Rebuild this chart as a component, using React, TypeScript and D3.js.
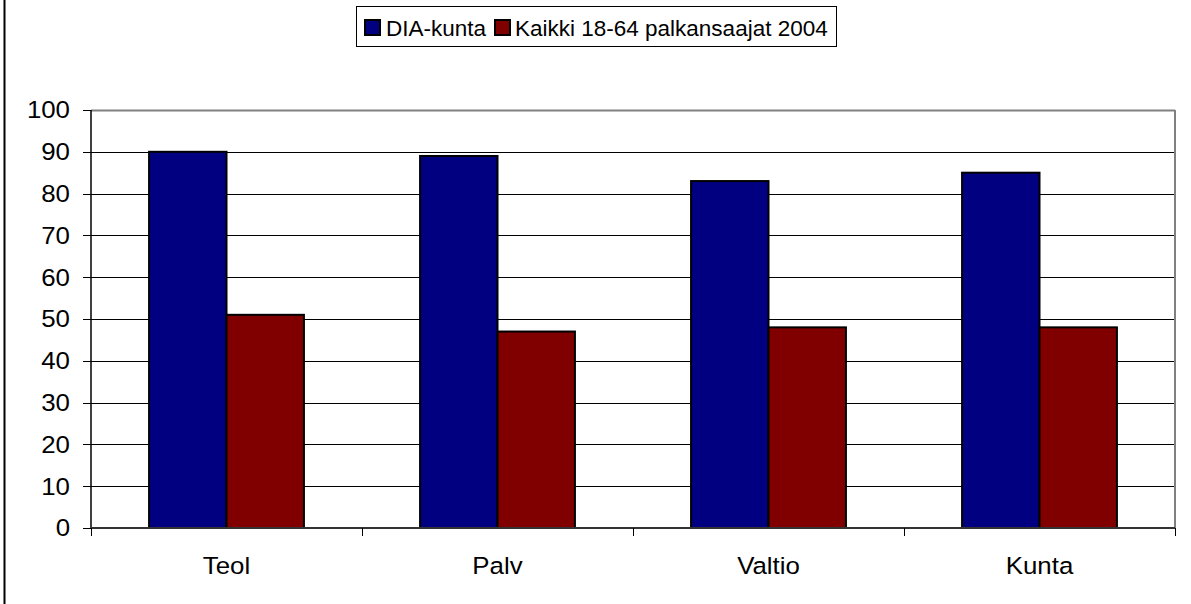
import React from "react";
import * as d3 from "d3";

const categories = ["Teol", "Palv", "Valtio", "Kunta"];
const seriesNames = ["DIA-kunta", "Kaikki 18-64 palkansaajat 2004"];
const diaValues = [90, 89, 83, 85];
const kaikkiValues = [51, 47, 48, 48];
const yTicks = [0, 10, 20, 30, 40, 50, 60, 70, 80, 90, 100];
const colors = ["#000080", "#800000"];

const W = 1191;
const H = 604;
const plot = { left: 91, right: 1175, top: 110, bottom: 528 };
const FONT = "'Liberation Sans', Arial, sans-serif";
const SX = 1.1;

export default function App() {
  const x0 = d3.scaleBand<string>().domain(categories).range([plot.left, plot.right]).paddingInner(0).paddingOuter(0);
  const bw = x0.bandwidth() / 3.5;
  const x1 = d3.scaleBand<number>().domain([0, 1]).range([0, bw * 2]);
  const y = d3.scaleLinear().domain([0, 100]).range([plot.bottom, plot.top]);
  const series = [diaValues, kaikkiValues];
  const boundaries = [...categories.map((c) => x0(c) as number), plot.right];

  return (
    <svg width={W} height={H} style={{ position: "absolute", left: 0, top: 0, background: "#fff" }} fontFamily={FONT}>
      <rect x={0} y={0} width={W} height={H} fill="#fff" />
      <line x1={4.5} x2={4.5} y1={0} y2={H} stroke="#000" strokeWidth={2} />
      {/* gridlines */}
      {yTicks.filter((t) => t > 0 && t < 100).map((t) => (
        <line key={t} x1={plot.left} x2={plot.right} y1={Math.round(y(t)) + 0.5} y2={Math.round(y(t)) + 0.5} stroke="#000" strokeWidth={1} />
      ))}
      {/* plot border top/right */}
      <line x1={plot.left} x2={plot.right} y1={plot.top + 0.5} y2={plot.top + 0.5} stroke="#808080" strokeWidth={2} />
      <line x1={plot.right} x2={plot.right} y1={plot.top} y2={plot.bottom} stroke="#808080" strokeWidth={2} />
      {/* bars */}
      {categories.map((c, i) => {
        const gx = (x0(c) as number) + x0.bandwidth() / 2 - bw;
        return series.map((s, j) => (
          <rect key={c + j} x={gx + (x1(j) as number)} y={y(s[i])} width={x1.bandwidth()} height={plot.bottom - y(s[i])} fill={colors[j]} stroke="#000" strokeWidth={2} />
        ));
      })}
      {/* axes */}
      <line x1={plot.left} x2={plot.left} y1={plot.top} y2={plot.bottom} stroke="#000" strokeWidth={1.5} />
      <line x1={plot.left} x2={plot.right} y1={plot.bottom} y2={plot.bottom} stroke="#333" strokeWidth={2} />
      {yTicks.map((t) => (
        <g key={t}>
          <line x1={83} x2={plot.left} y1={Math.round(y(t)) + 0.5} y2={Math.round(y(t)) + 0.5} stroke="#000" strokeWidth={1} />
          <text transform={`translate(70,${y(t)}) scale(${SX},1)`} dy="0.36em" textAnchor="end" fontSize={23.5} fill="#000">{t}</text>
        </g>
      ))}
      {boundaries.map((b, i) => (
        <line key={i} x1={Math.round(b) + 0.5} x2={Math.round(b) + 0.5} y1={plot.bottom} y2={plot.bottom + 8} stroke="#000" strokeWidth={1} />
      ))}
      {categories.map((c) => (
        <text key={c} transform={`translate(${(x0(c) as number) + x0.bandwidth() / 2},574) scale(${SX},1)`} textAnchor="middle" fontSize={23.5} fill="#000">{c}</text>
      ))}
      {/* legend */}
      <rect x={356.5} y={6.5} width={480} height={40} fill="#fff" stroke="#000" strokeWidth={1} />
      <rect x={365} y={20} width={15} height={15} fill={colors[0]} stroke="#000" strokeWidth={2} />
      <text x={386} y={36} fontSize={22.5} fill="#000">{seriesNames[0]}</text>
      <rect x={495} y={20} width={15} height={15} fill={colors[1]} stroke="#000" strokeWidth={2} />
      <text x={515} y={36} fontSize={22.5} fill="#000">{seriesNames[1]}</text>
    </svg>
  );
}
